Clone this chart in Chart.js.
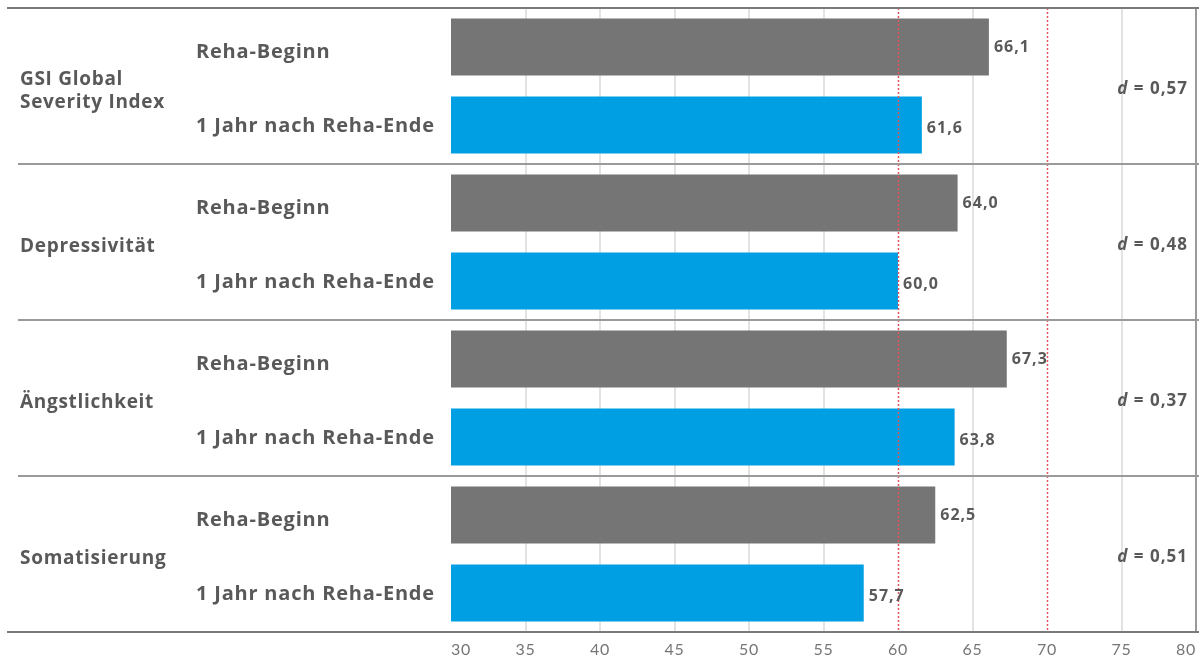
<!DOCTYPE html>
<html>
<head>
<meta charset="utf-8">
<title>SCL-90 Verlauf</title>
<script src="https://cdn.jsdelivr.net/npm/chart.js@4.4.1/dist/chart.umd.min.js"></script>
<style>
  html, body { margin: 0; padding: 0; background: #fff; }
  .wrap { position: relative; width: 1199px; height: 661px; }
</style>
</head>
<body>
<div class="wrap"><canvas id="barChart"></canvas></div>
<script>
// Daten
const groups = [['GSI Global', 'Severity Index'], 'Depressivität', 'Ängstlichkeit', 'Somatisierung'];
const seriesNames = ['Reha-Beginn', '1 Jahr nach Reha-Ende'];
const rehaBeginn = [66.1, 64.0, 67.3, 62.5];
const jahrNachEnde = [61.6, 60.0, 63.8, 57.7];
const effectSizes = ['0,57', '0,48', '0,37', '0,51'];
const xMin = 30, xMax = 80, xStep = 5;
const refLines = [60, 70];

const textColor = '#595959';
const boldFont = '"Open Sans", Lato, sans-serif';
Chart.defaults.font.family = 'Lato, "Open Sans", sans-serif';

function fmt(v) {
  return v.toFixed(1).replace('.', ',');
}

// etwas breitere Schrift für die Achsenbeschriftung
const spacing = {
  id: 'spacing',
  beforeDraw(chart) { chart.ctx.letterSpacing = '0.7px'; },
  beforeDatasetsDraw(chart) { chart.ctx.letterSpacing = '0px'; }
};

// Linien, Beschriftungen und Effektstärken über den Balken
const overlay = {
  id: 'overlay',
  afterDatasetsDraw(chart) {
    const ctx = chart.ctx;
    const area = chart.chartArea;
    const x = chart.scales.x;
    ctx.save();

    // rote gepunktete Referenzlinien
    ctx.strokeStyle = '#e4555b';
    ctx.lineWidth = 1.5;
    ctx.setLineDash([2, 2]);
    refLines.forEach(function (v) {
      const px = Math.round(x.getPixelForValue(v)) + 0.5;
      ctx.beginPath();
      ctx.moveTo(px, area.top);
      ctx.lineTo(px, area.bottom);
      ctx.stroke();
    });
    ctx.setLineDash([]);

    // horizontale Trennlinien
    const step = (area.bottom - area.top) / groups.length;
    ctx.lineWidth = 2;
    for (let i = 0; i <= groups.length; i++) {
      const yy = Math.round(area.top + i * step);
      const edge = (i === 0 || i === groups.length);
      ctx.strokeStyle = edge ? '#7a7a7a' : '#9a9a9a';
      ctx.beginPath();
      ctx.moveTo(edge ? 7 : 18, yy);
      ctx.lineTo(chart.width, yy);
      ctx.stroke();
    }

    // Reihenbeschriftung und Werte
    ctx.fillStyle = textColor;
    ctx.textBaseline = 'middle';
    ctx.textAlign = 'left';
    chart.data.datasets.forEach(function (ds, di) {
      chart.getDatasetMeta(di).data.forEach(function (bar, i) {
        ctx.font = 'bold 20px ' + boldFont;
        ctx.letterSpacing = '0.8px';
        ctx.fillText(ds.label, 196, bar.y + (di === 0 ? 5 : 1));
        ctx.font = 'bold 16px ' + boldFont;
        ctx.letterSpacing = '1px';
        ctx.fillText(fmt(ds.data[i]), bar.x + 5, bar.y + (di === 1 ? 3 : 0));
      });
    });

    // Effektstärken d
    const right = 1188;
    ctx.letterSpacing = '1px';
    effectSizes.forEach(function (d, i) {
      const yy = area.top + (i + 0.5) * step + 3;
      ctx.font = 'bold 17px ' + boldFont;
      const rest = ' = ' + d;
      const wRest = ctx.measureText(rest).width;
      ctx.fillText(rest, right - wRest, yy);
      ctx.font = 'italic bold 17px ' + boldFont;
      const wD = ctx.measureText('d').width;
      ctx.fillText('d', right - wRest - wD, yy);
    });

    ctx.restore();
  }
};

const ctxBar = document.getElementById('barChart').getContext('2d');
const barChart = new Chart(ctxBar, {
  type: 'bar',
  data: {
    labels: groups,
    datasets: [{
      label: seriesNames[0],
      data: rehaBeginn,
      backgroundColor: '#757575'
    }, {
      label: seriesNames[1],
      data: jahrNachEnde,
      backgroundColor: '#009fe3'
    }]
  },
  options: {
    indexAxis: 'y',
    responsive: true,
    maintainAspectRatio: false,
    animation: false,
    categoryPercentage: 1,
    barPercentage: 0.73,
    layout: {
      padding: { top: 8, right: 3, left: 20, bottom: 0 }
    },
    scales: {
      x: {
        min: xMin,
        max: xMax,
        border: { display: false },
        grid: {
          drawTicks: false,
          lineWidth: 2,
          color: function (c) {
            const v = c.tick && c.tick.value;
            if (v === xMin || refLines.indexOf(v) >= 0) return 'rgba(0,0,0,0)';
            if (v === xMax) return '#9a9a9a';
            return '#e3e3e3';
          }
        },
        ticks: {
          stepSize: xStep,
          align: 'inner',
          padding: 8,
          color: '#767676',
          font: { size: 16 }
        },
        afterFit: function (axis) {
          axis.height = 29;
          axis.paddingLeft = 0;
          axis.paddingRight = 0;
        }
      },
      y: {
        border: { display: false },
        grid: { display: false },
        ticks: {
          crossAlign: 'far',
          labelOffset: 5,
          color: textColor,
          font: { family: boldFont, size: 19, weight: 'bold', lineHeight: 1.25 }
        },
        afterFit: function (axis) {
          axis.width = 431;
          axis.paddingTop = 0;
          axis.paddingBottom = 0;
        }
      }
    },
    plugins: {
      legend: { display: false },
      tooltip: { enabled: false }
    }
  },
  plugins: [spacing, overlay]
});
</script>
</body>
</html>
